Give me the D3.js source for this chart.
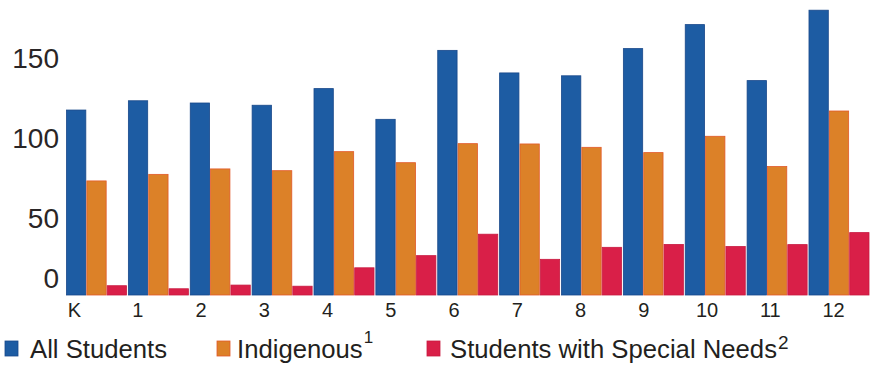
<!DOCTYPE html>
<html>
<head>
<meta charset="utf-8">
<script src="https://cdn.jsdelivr.net/npm/d3@7"></script>
<style>
  html, body { margin: 0; padding: 0; background: #ffffff; }
  svg { display: block; font-family: "Liberation Sans", Arial, Helvetica, sans-serif; }
</style>
</head>
<body>
<svg id="chart" width="874" height="367"></svg>
<script>
// Grades shown along the x axis
const grades = ["K", "1", "2", "3", "4", "5", "6", "7", "8", "9", "10", "11", "12"];

// Series values per grade
const allStudents = [115.6, 121.4, 120, 118.6, 129, 109.8, 152.9, 138.8, 137, 154, 169, 134, 178];
const indigenous = [71.3, 75.4, 78.8, 77.7, 89.6, 82.7, 94.6, 94.4, 92.3, 89, 99.2, 80.3, 115];
const specialNeeds = [5.8, 3.9, 6.2, 5.5, 17, 24.6, 38, 22.3, 29.8, 31.6, 30.3, 31.5, 39];

// Y axis tick labels
const yTicks = [0, 50, 100, 150];

// Series metadata
const seriesNames = ["All Students", "Indigenous", "Students with Special Needs"];
const seriesNotes = ["", "1", "2"];
const seriesColors = ["#1d5ca3", "#dc8128", "#d91f48"];
const seriesStrokes = ["#18488a", "#e2592a", "#c81a40"];

const svg = d3.select("#chart");

const y = d3.scaleLinear().domain([0, 150]).range([295, 55]);

const x = d3.scaleBand().domain(grades).range([66.5, 869]).paddingInner(0.03).paddingOuter(0);
const xInner = d3.scaleBand().domain(d3.range(3)).range([0, x.bandwidth()]).paddingInner(0.05);

// Label positions along the category axis
const xLabel = d3.scalePoint().domain(grades).range([74, 833]);

const rows = grades.map((g, i) => ({
  grade: g,
  values: [allStudents[i], indigenous[i], specialNeeds[i]]
}));

// Bars
const groups = svg.append("g").selectAll("g")
  .data(rows)
  .join("g")
  .attr("transform", d => `translate(${x(d.grade)},0)`);

groups.selectAll("rect")
  .data(d => d.values.map((v, k) => ({ k, v })))
  .join("rect")
  .attr("x", d => xInner(d.k))
  .attr("width", xInner.bandwidth())
  .attr("y", d => y(d.v))
  .attr("height", d => y(0) - y(d.v))
  .attr("fill", d => seriesColors[d.k])
  .attr("stroke", d => seriesStrokes[d.k])
  .attr("stroke-width", 0.8);

// Y axis (labels only)
const yAxis = svg.append("g")
  .attr("transform", "translate(59,0)")
  .call(d3.axisLeft(y).tickValues(yTicks).tickSize(0).tickPadding(0).tickFormat(d3.format("d")));
yAxis.select(".domain").remove();
yAxis.selectAll("text")
  .attr("font-family", "Liberation Sans, Arial, sans-serif")
  .attr("font-size", 28)
  .attr("fill", "#2a2627")
  .attr("dy", d => d === 0 ? "-8px" : "0.46em");

// X axis (labels only)
const xAxis = svg.append("g")
  .attr("transform", "translate(0,297)")
  .call(d3.axisBottom(xLabel).tickSize(0).tickPadding(0));
xAxis.select(".domain").remove();
xAxis.selectAll("text")
  .attr("font-family", "Liberation Sans, Arial, sans-serif")
  .attr("font-size", 20)
  .attr("fill", "#231f20")
  .attr("dy", "19.5px");

// Legend
const legendX = [5, 217, 427];
const textX = [30, 237, 450];
const supOffset = [0, -15, -9];
const supSize = [0, 17, 19];

const legend = svg.append("g");
seriesNames.forEach((name, k) => {
  legend.append("rect")
    .attr("x", legendX[k])
    .attr("y", 341)
    .attr("width", 13)
    .attr("height", 15)
    .attr("fill", seriesColors[k])
    .attr("stroke", seriesStrokes[k])
    .attr("stroke-width", 0.8);
  const t = legend.append("text")
    .attr("x", textX[k])
    .attr("y", 358)
    .attr("font-size", 25.7)
    .attr("fill", "#231f20")
    .text(name);
  if (seriesNotes[k]) {
    t.append("tspan")
      .attr("dx", 1)
      .attr("dy", supOffset[k])
      .attr("font-size", supSize[k])
      .text(seriesNotes[k]);
  }
});
</script>
</body>
</html>
